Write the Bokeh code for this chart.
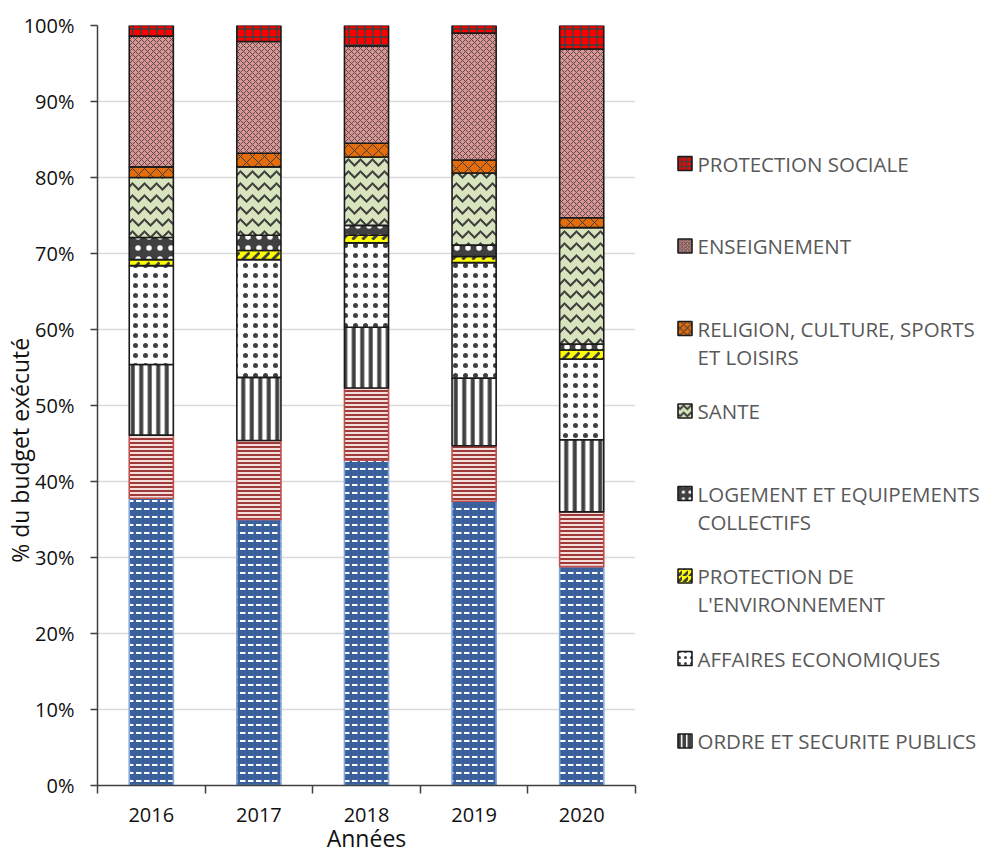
from bokeh.plotting import figure
from bokeh.models import ColumnDataSource, FixedTicker, NumeralTickFormatter, Range1d
from bokeh.layouts import row
from bokeh.embed import file_html
from bokeh.resources import INLINE
from bokeh.core.properties import value

# ---- data (percent of executed budget) ----
years = ["2016", "2017", "2018", "2019", "2020"]
services_generaux = [37.8, 35.0, 42.8, 37.4, 28.8]
defense = [8.3, 10.4, 9.5, 7.3, 7.2]
ordre_securite = [9.3, 8.3, 8.0, 8.9, 9.5]
affaires_economiques = [13.0, 15.5, 11.1, 15.2, 10.6]
protection_environnement = [0.8, 1.2, 1.0, 0.8, 1.2]
logement = [2.9, 2.0, 1.3, 1.5, 0.8]
sante = [7.9, 9.0, 9.0, 9.5, 15.3]
religion_culture = [1.4, 1.8, 1.8, 1.7, 1.3]
enseignement = [17.2, 14.7, 12.8, 16.7, 22.2]
protection_sociale = [1.4, 2.1, 2.7, 1.0, 3.1]

y_ticks = [0, 0.1, 0.2, 0.3, 0.4, 0.5, 0.6, 0.7, 0.8, 0.9, 1.0]
x_title = "Années"
y_title = "% du budget exécuté"

series = [
    ("SERVICES GENERAUX", services_generaux),
    ("DEFENSE", defense),
    ("ORDRE ET SECURITE PUBLICS", ordre_securite),
    ("AFFAIRES ECONOMIQUES", affaires_economiques),
    ("PROTECTION DE\nL'ENVIRONNEMENT", protection_environnement),
    ("LOGEMENT ET EQUIPEMENTS\nCOLLECTIFS", logement),
    ("SANTE", sante),
    ("RELIGION, CULTURE, SPORTS\nET LOISIRS", religion_culture),
    ("ENSEIGNEMENT", enseignement),
    ("PROTECTION SOCIALE", protection_sociale),
]
legend_order = [9, 8, 7, 6, 5, 4, 3, 2]

# ---- styles ----
fills = ["#3A619C", "#F3DEDD", "#FFFFFF", "#FFFFFF", "#FFFF00", "#404040",
         "#D7E4BD", "#E46C0A", "#D99694", "#FF0000"]
lines = ["#7EA6DA", "#C0504D", "#1A1A1A", "#1A1A1A", "#1A1A1A", "#1A1A1A",
         "#1A1A1A", "#1A1A1A", "#1A1A1A", "#1A1A1A"]
hatches = ["horizontal_dash", "horizontal_line", "vertical_line", "dot",
           "right_diagonal_dash", "dot", "horizontal_wave", "diagonal_cross",
           "diagonal_cross", "cross"]
hcolors = ["#FFFFFF", "#9E3A38", "#404040", "#404040", "#404040", "#FFFFFF",
           "#404040", "#404040", "#5A4A4A", "#404040"]
hscales = [8, 4, 8.5, 10, 10, 11, 12, 12, 6, 8]
hweights = [2, 2, 4, 0.7, 3, 0.8, 2, 1, 1, 1.5]

FONT = "Open Sans"
TOP, BOTTOM, LEFT, RIGHT = 25, 71, 97, 5
W_MAIN, W_LEG, H = 640, 348, 856

data = {"x": list(range(1, len(years) + 1))}
keys = []
for i, (name, vals) in enumerate(series):
    k = f"s{i}"
    keys.append(k)
    data[k] = [v / 100.0 for v in vals]
src = ColumnDataSource(data)

p = figure(width=W_MAIN, height=H, x_range=Range1d(0.5, len(years) + 0.5),
           y_range=Range1d(0, 1), output_backend="svg", toolbar_location=None,
           min_border_left=LEFT, min_border_right=RIGHT, min_border_top=TOP,
           min_border_bottom=BOTTOM)
p.outline_line_color = None
p.background_fill_color = "white"
p.border_fill_color = "white"

p.vbar_stack(keys, x="x", width=0.41, source=src,
             fill_color=fills, line_color=lines, line_width=1.6,
             hatch_pattern=hatches, hatch_color=hcolors,
             hatch_scale=hscales, hatch_weight=hweights)

# axes
p.xgrid.grid_line_color = None
p.ygrid.grid_line_color = "#D9D9D9"
p.ygrid.grid_line_width = 1.5
p.yaxis.ticker = FixedTicker(ticks=y_ticks, minor_ticks=[])
p.yaxis.formatter = NumeralTickFormatter(format="0%")
p.yaxis.major_tick_out = 7
p.yaxis.major_tick_in = 0
p.yaxis.major_label_standoff = 16
# trailing no-break spaces push the centred title down, as in the reference
p.yaxis.axis_label = y_title + "\u00a0" * 15
p.yaxis.axis_label_standoff = -15

p.xaxis.ticker = FixedTicker(ticks=list(range(1, len(years) + 1)),
                             minor_ticks=[i + 0.5 for i in range(len(years) + 1)])
p.xaxis.major_label_overrides = {i + 1: y for i, y in enumerate(years)}
p.xaxis.major_tick_out = 0
p.xaxis.major_tick_in = 0
p.xaxis.minor_tick_out = 8
p.xaxis.minor_tick_in = 0
p.xaxis.minor_tick_line_color = "#404040"
p.xaxis.minor_tick_line_width = 1.5
p.xaxis.major_label_standoff = 14
p.xaxis.axis_label = x_title
p.xaxis.axis_label_standoff = -3

for ax in (p.xaxis[0], p.yaxis[0]):
    ax.axis_line_color = "#404040"
    ax.axis_line_width = 1.5
    ax.major_label_text_font = FONT
    ax.major_label_text_font_size = "20px"
    ax.major_label_text_color = "#111111"
    ax.axis_label_text_font = FONT
    ax.axis_label_text_font_size = "23px"
    ax.axis_label_text_font_style = "normal"
    ax.axis_label_text_color = "#111111"
p.xaxis.major_tick_line_color = None
p.yaxis.major_tick_line_color = "#404040"
p.yaxis.major_tick_line_width = 1.5

# ---- legend panel (same frame geometry as the chart, screen-pixel y) ----
lg = figure(width=W_LEG, height=H, x_range=Range1d(0, W_LEG),
            y_range=Range1d(H - BOTTOM, TOP),
            output_backend="svg", toolbar_location=None,
            x_axis_location=None, y_axis_location=None,
            min_border_left=0, min_border_right=0,
            min_border_top=TOP, min_border_bottom=BOTTOM)
lg.outline_line_color = None
lg.xgrid.grid_line_color = None
lg.ygrid.grid_line_color = None

top = 163
step = 82.5
line_h = 28
for row_i, si in enumerate(legend_order):
    yc = top + row_i * step
    lg.rect(x=[44.5], y=[yc], width=14, height=14, width_units="screen",
            height_units="screen", fill_color=fills[si], line_color=lines[si],
            line_width=1.6, hatch_pattern=hatches[si], hatch_color=hcolors[si],
            hatch_scale=max(hscales[si] * 0.6, 3), hatch_weight=hweights[si])
    for li, txt in enumerate(series[si][0].split("\n")):
        lg.text(x=[57], y=[yc + li * line_h], text=[txt], text_baseline="middle",
                text_align="left", text_font=value(FONT), text_font_size="20.5px",
                text_color="#595959")

layout = row(p, lg, spacing=0)
open("out.html", "w").write(file_html(layout, INLINE))
